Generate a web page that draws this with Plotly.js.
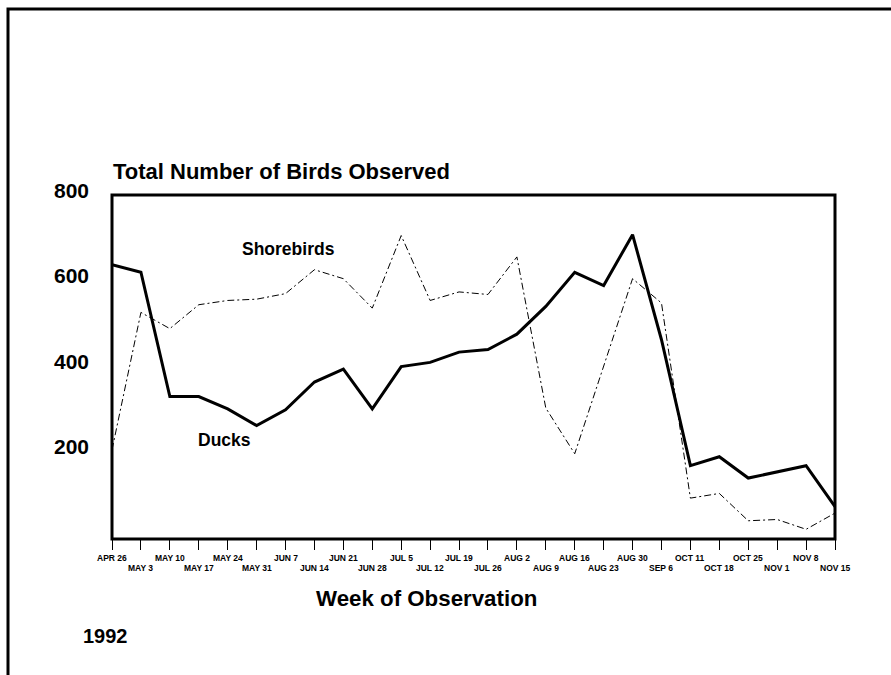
<!DOCTYPE html>
<html>
<head>
<meta charset="utf-8">
<script src="https://cdn.plot.ly/plotly-3.0.1.min.js"></script>
<style>
  html, body { margin: 0; padding: 0; background: #fff; }
  #chart { width: 891px; height: 675px; }
</style>
</head>
<body>
<div id="chart"></div>
<script>
// ---- data ----
const weeks = ["APR 26","MAY 3","MAY 10","MAY 17","MAY 24","MAY 31","JUN 7","JUN 14","JUN 21","JUN 28",
               "JUL 5","JUL 12","JUL 19","JUL 26","AUG 2","AUG 9","AUG 16","AUG 23","AUG 30","SEP 6",
               "OCT 11","OCT 18","OCT 25","NOV 1","NOV 8","NOV 15"];
const ducks = [626, 608, 317, 317, 288, 249, 286, 351, 381, 288,
               387, 397, 421, 427, 463, 528, 608, 577, 696, 450,
               155, 176, 126, 141, 155, 59];
const shorebirds = [192, 514, 476, 532, 542, 545, 558, 614, 593, 524,
                    694, 542, 562, 556, 644, 290, 183, 390, 593, 536,
                    79, 90, 26, 29, 6, 44];
const yTickVals = [200, 400, 600, 800];
const yTickText = ["200", "400", "600", "800"];

// ---- layout geometry (pixels) ----
const W = 891, H = 675;
const L = 112, R = 56, T = 195, B = 136;
const pw = W - L - R, ph = H - T - B;
const px = x => (x - L) / pw;            // pixel x -> paper
const py = y => (H - B - y) / ph;        // pixel y -> paper
const Y0 = -16.7, Y1 = 789;
const vy = v => (v - Y0) / (Y1 - Y0);    // data y -> paper

const FONT = "Liberation Sans, Arial, Helvetica, sans-serif";

const traces = [
  {
    x: weeks, y: shorebirds, type: "scatter", mode: "lines", name: "Shorebirds",
    line: { color: "#000", width: 1, dash: "7px,3px,2px,3px" }
  },
  {
    x: weeks, y: ducks, type: "scatter", mode: "lines", name: "Ducks",
    line: { color: "#000", width: 3 }
  }
];

const annotations = [];
// x tick labels, alternating two rows
weeks.forEach((w, i) => {
  annotations.push({
    x: w, xref: "x", y: 0, yref: "paper", yanchor: "middle", xanchor: "center",
    yshift: i % 2 === 0 ? -19 : -28.5, showarrow: false, text: "<b>" + w + "</b>",
    font: { family: FONT, size: 8.5, color: "#000" }
  });
});
// y tick labels (800 sits just above the plotted range)
yTickVals.forEach((v, i) => {
  annotations.push({
    x: px(91), xref: "paper", y: vy(v), yref: "paper", xanchor: "right", yanchor: "middle",
    showarrow: false, text: "<b>" + yTickText[i] + "</b>",
    font: { family: FONT, size: 21, color: "#000" }
  });
});
// series labels
annotations.push({
  x: px(288), xref: "paper", y: py(249), yref: "paper", xanchor: "center", yanchor: "middle",
  showarrow: false, text: "<b>Shorebirds</b>", font: { family: FONT, size: 17.5, color: "#000" }
});
annotations.push({
  x: px(224), xref: "paper", y: py(440), yref: "paper", xanchor: "center", yanchor: "middle",
  showarrow: false, text: "<b>Ducks</b>", font: { family: FONT, size: 17.5, color: "#000" }
});
// titles
annotations.push({
  x: px(111), xref: "paper", y: py(171), yref: "paper", xanchor: "left", yanchor: "middle",
  showarrow: false, text: "<b>Total Number of Birds Observed</b>", font: { family: FONT, size: 22, color: "#000" }
});
annotations.push({
  x: px(426), xref: "paper", y: py(598), yref: "paper", xanchor: "center", yanchor: "middle",
  showarrow: false, text: "<b>Week of Observation</b>", font: { family: FONT, size: 22.3, color: "#000" }
});
annotations.push({
  x: px(81), xref: "paper", y: py(636), yref: "paper", xanchor: "left", yanchor: "middle",
  showarrow: false, text: "<b>1992</b>", font: { family: FONT, size: 20, color: "#000" }
});

const shapes = [
  // plot frame
  { type: "rect", xref: "paper", yref: "paper", x0: 0, x1: 1, y0: 0, y1: 1,
    line: { color: "#000", width: 3 }, layer: "above" },
  // outer page frame (top and left)
  { type: "path", xref: "paper", yref: "paper",
    path: `M ${px(8)} ${py(700)} L ${px(8)} ${py(9)} L ${px(900)} ${py(9)}`,
    line: { color: "#000", width: 3 } }
];

const layout = {
  width: W, height: H,
  margin: { l: L, r: R, t: T, b: B, pad: 0 },
  paper_bgcolor: "#fff", plot_bgcolor: "#fff",
  showlegend: false,
  font: { family: FONT, color: "#000" },
  xaxis: {
    type: "category", range: [0, weeks.length - 1],
    tickmode: "array", tickvals: weeks, showticklabels: false,
    ticks: "outside", ticklen: 10, tickwidth: 1, tickcolor: "#000",
    showline: false, showgrid: false, zeroline: false, fixedrange: true
  },
  yaxis: {
    range: [Y0, Y1], showticklabels: false, ticks: "",
    showline: false, showgrid: false, zeroline: false, fixedrange: true
  },
  annotations: annotations,
  shapes: shapes
};

Plotly.newPlot("chart", traces, layout, { displayModeBar: false, staticPlot: true });
</script>
</body>
</html>
